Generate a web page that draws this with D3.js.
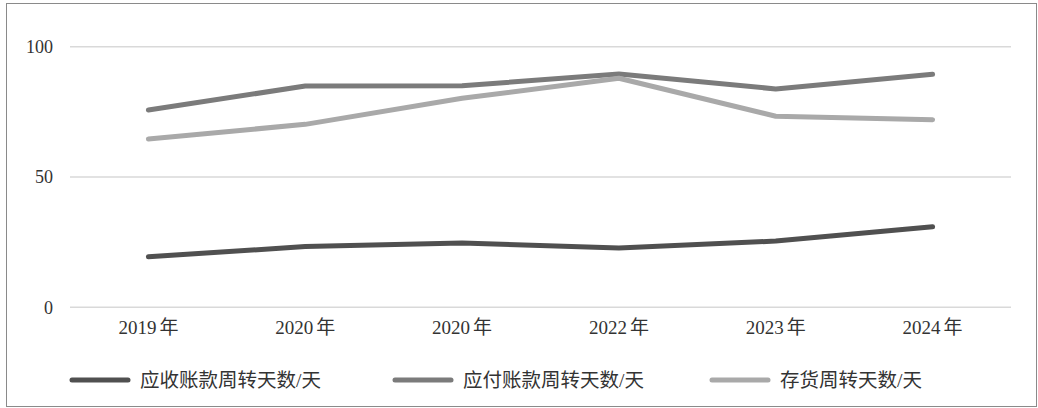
<!DOCTYPE html>
<html>
<head>
<meta charset="utf-8">
<script src="https://cdn.jsdelivr.net/npm/d3@7"></script>
<style>
  html, body { margin: 0; padding: 0; background: #fff; }
  svg { display: block; }
  text { font-family: "Liberation Serif", "Noto Sans CJK SC", serif; fill: #333; }
</style>
</head>
<body>
<svg id="chart" width="1038" height="408"></svg>
<script>
const categories = ["2019年", "2020年", "2020年", "2022年", "2023年", "2024年"];
const receivableDays = [19.4, 23.3, 24.7, 22.8, 25.4, 30.9];
const payableDays = [75.7, 84.9, 85.0, 89.5, 83.8, 89.4];
const inventoryDays = [64.6, 70.2, 80.2, 87.9, 73.3, 72.0];
const seriesNames = ["应收账款周转天数/天", "应付账款周转天数/天", "存货周转天数/天"];
const yTicks = [0, 50, 100];

const series = [
  { name: seriesNames[0], values: receivableDays, color: "#505050" },
  { name: seriesNames[1], values: payableDays, color: "#7b7b7b" },
  { name: seriesNames[2], values: inventoryDays, color: "#a9a9a9" }
];

const svg = d3.select("#chart");
svg.append("rect").attr("x", 6.5).attr("y", 3.5).attr("width", 1030).attr("height", 403)
  .attr("fill", "#fff").attr("stroke", "#8a8a8a").attr("stroke-width", 1);

const x = d3.scaleBand().domain(d3.range(categories.length)).range([70, 1011]);
const y = d3.scaleLinear().domain([0, 100]).range([307.3, 46.7]);

// gridlines
const grid = svg.append("g");
grid.selectAll("line").data(yTicks).join("line")
  .attr("x1", 70).attr("x2", 1011)
  .attr("y1", d => y(d)).attr("y2", d => y(d))
  .attr("stroke", "#d9d9d9").attr("stroke-width", 1.5);

// y axis labels
const yAxis = svg.append("g").attr("transform", "translate(53,0)")
  .call(d3.axisLeft(y).tickValues(yTicks).tickSize(0).tickPadding(0));
yAxis.select(".domain").remove();
yAxis.selectAll("text").attr("font-size", 18).attr("font-family", "Liberation Serif, serif").attr("fill", "#333").attr("dy", "0.32em");

// x axis labels
const xAxis = svg.append("g").attr("transform", "translate(0,318)")
  .call(d3.axisBottom(x).tickFormat(() => "").tickSize(0).tickPadding(0));
xAxis.select(".domain").remove();
xAxis.selectAll(".tick text").each(function (i) {
  const t = d3.select(this).attr("font-size", 19).attr("fill", "#333").attr("dy", "0.85em");
  const label = categories[i];
  t.append("tspan").attr("font-family", "Liberation Serif, serif").text(label.slice(0, -1));
  t.append("tspan").attr("dx", 3).attr("font-family", "Noto Sans CJK SC, sans-serif").text(label.slice(-1));
});

// lines
const line = d3.line().x((d, i) => x(i) + x.bandwidth() / 2).y(d => y(d));
svg.append("g").selectAll("path").data(series).join("path")
  .attr("d", d => line(d.values))
  .attr("fill", "none").attr("stroke", d => d.color)
  .attr("stroke-width", 5).attr("stroke-linecap", "round").attr("stroke-linejoin", "round");

// legend
const legendX = [70, 393, 710];
const lg = svg.append("g").selectAll("g").data(series).join("g")
  .attr("transform", (d, i) => `translate(${legendX[i]},380)`);
lg.append("line").attr("x1", 2).attr("x2", 58).attr("y1", 0).attr("y2", 0)
  .attr("stroke", d => d.color).attr("stroke-width", 5).attr("stroke-linecap", "round");
lg.append("text").attr("x", 70).attr("y", 0).attr("dy", "0.35em")
  .attr("font-size", 19.5).text(d => d.name);
</script>
</body>
</html>
